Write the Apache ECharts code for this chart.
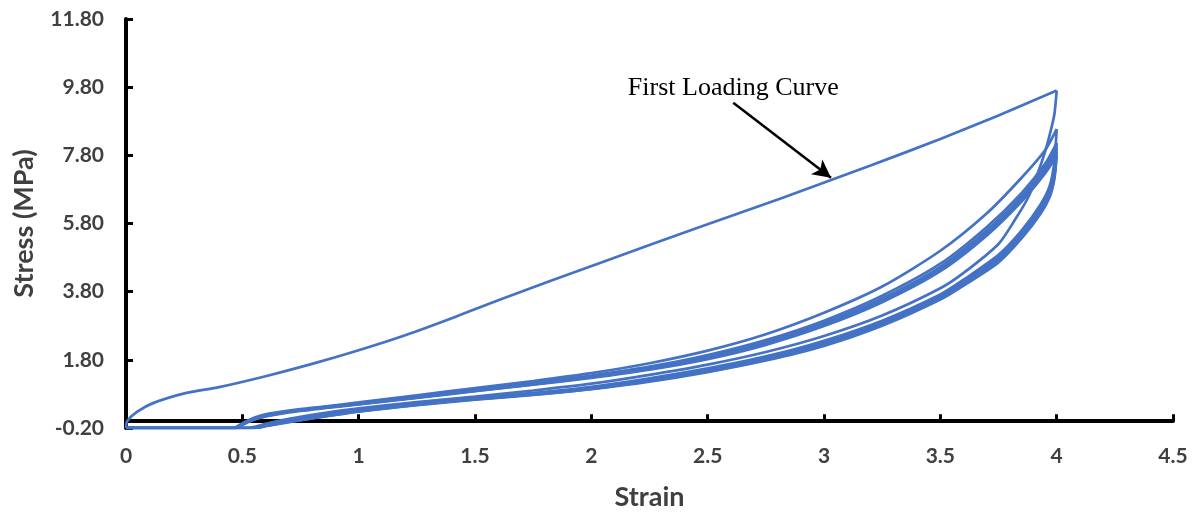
<!DOCTYPE html>
<html>
<head>
<meta charset="utf-8">
<script src="https://cdn.jsdelivr.net/npm/echarts@6/dist/echarts.min.js"></script>
<style>
  html, body { margin: 0; padding: 0; background: #fff; }
  #chart { width: 1195px; height: 512px; }
</style>
</head>
<body>
<div id="chart"></div>
<script>
// strain / stress pairs, one array per loading or unloading pass
const firstLoading = [[0, -0.2], [0.005, 0], [0.047, 0.27], [0.116, 0.53], [0.26, 0.83], [0.4, 1.0], [0.6, 1.32],
  [0.8, 1.68], [1.0, 2.08], [1.2, 2.52], [1.4, 3.02], [1.6, 3.55], [2.04, 4.65], [2.46, 5.68], [2.82, 6.55],
  [3.2, 7.5], [3.5, 8.28], [3.75, 8.97], [4.0, 9.7]]
const unloading1 = [[4.0, 9.7], [3.99, 9.0], [3.97, 8.4], [3.95, 7.9], [3.92, 7.3], [3.88, 6.6], [3.82, 5.9], [3.75, 5.2],
  [3.6, 4.35], [3.5, 3.9], [3.25, 3.1], [3.0, 2.5], [2.75, 2.03], [2.5, 1.66], [2.25, 1.36], [2.0, 1.1], [1.75, 0.9],
  [1.5, 0.72], [1.25, 0.56], [1.0, 0.38], [0.85, 0.24], [0.7, 0.07], [0.6, -0.08], [0.52, -0.2], [0, -0.2]]
const loading2 = [[0, -0.2], [0.46, -0.2], [0.5, -0.06], [0.55, 0.1], [0.6, 0.2], [0.7, 0.31], [0.85, 0.43], [1.0, 0.55],
  [1.25, 0.76], [1.5, 0.97], [1.75, 1.18], [2.0, 1.41], [2.25, 1.7], [2.5, 2.07], [2.75, 2.55], [3.0, 3.18],
  [3.25, 3.95], [3.5, 5.0], [3.7, 6.1], [3.85, 7.15], [3.95, 7.95], [4.0, 8.57]]
const unloading2 = [[4.0, 8.57], [3.99, 7.6], [3.97, 6.9], [3.93, 6.35], [3.85, 5.6], [3.75, 4.88], [3.6, 4.15],
  [3.5, 3.72], [3.25, 2.95], [3.0, 2.36], [2.75, 1.9], [2.5, 1.55], [2.25, 1.26], [2.0, 1.01], [1.75, 0.83],
  [1.5, 0.68], [1.25, 0.52], [1.0, 0.34], [0.85, 0.19], [0.7, 0.02], [0.6, -0.1], [0.54, -0.2], [0, -0.2]]
const loading3 = [[0, -0.2], [0.47, -0.2], [0.5, -0.08], [0.55, 0.07], [0.6, 0.17], [0.7, 0.29], [0.85, 0.41], [1.0, 0.52],
  [1.25, 0.72], [1.5, 0.92], [1.75, 1.12], [2.0, 1.34], [2.25, 1.6], [2.5, 1.94], [2.75, 2.38], [3.0, 2.95],
  [3.25, 3.68], [3.5, 4.62], [3.7, 5.7], [3.85, 6.7], [3.95, 7.55], [4.0, 8.16]]
const unloading3 = [[4.0, 8.16], [3.99, 7.35], [3.97, 6.78], [3.93, 6.25], [3.85, 5.52], [3.75, 4.8], [3.6, 4.1],
  [3.5, 3.67], [3.25, 2.9], [3.0, 2.3], [2.75, 1.85], [2.5, 1.5], [2.25, 1.22], [2.0, 0.98], [1.75, 0.8],
  [1.5, 0.66], [1.25, 0.5], [1.0, 0.31], [0.85, 0.16], [0.7, 0.0], [0.6, -0.12], [0.54, -0.2], [0, -0.2]]
const loading4 = [[0, -0.2], [0.47, -0.2], [0.5, -0.09], [0.55, 0.06], [0.6, 0.16], [0.7, 0.28], [0.85, 0.4], [1.0, 0.51],
  [1.25, 0.7], [1.5, 0.9], [1.75, 1.1], [2.0, 1.31], [2.25, 1.56], [2.5, 1.89], [2.75, 2.32], [3.0, 2.88],
  [3.25, 3.6], [3.5, 4.53], [3.7, 5.6], [3.85, 6.6], [3.95, 7.45], [4.0, 8.02]]
const unloading4 = [[4.0, 8.02], [3.99, 7.25], [3.97, 6.7], [3.93, 6.18], [3.85, 5.46], [3.75, 4.74], [3.6, 4.05],
  [3.5, 3.63], [3.25, 2.86], [3.0, 2.27], [2.75, 1.82], [2.5, 1.48], [2.25, 1.2], [2.0, 0.96], [1.75, 0.79],
  [1.5, 0.65], [1.25, 0.49], [1.0, 0.3], [0.85, 0.15], [0.7, -0.01], [0.6, -0.13], [0.55, -0.2], [0, -0.2]]
const loading5 = [[0, -0.2], [0.48, -0.2], [0.5, -0.1], [0.55, 0.05], [0.6, 0.15], [0.7, 0.27], [0.85, 0.39], [1.0, 0.5],
  [1.25, 0.69], [1.5, 0.89], [1.75, 1.08], [2.0, 1.29], [2.25, 1.53], [2.5, 1.85], [2.75, 2.28], [3.0, 2.83],
  [3.25, 3.54], [3.5, 4.46], [3.7, 5.52], [3.85, 6.52], [3.95, 7.36], [4.0, 7.9]]
const unloading5 = [[4.0, 7.9], [3.99, 7.17], [3.97, 6.63], [3.93, 6.12], [3.85, 5.41], [3.75, 4.7], [3.6, 4.01],
  [3.5, 3.6], [3.25, 2.83], [3.0, 2.24], [2.75, 1.8], [2.5, 1.46], [2.25, 1.18], [2.0, 0.95], [1.75, 0.78],
  [1.5, 0.64], [1.25, 0.48], [1.0, 0.29], [0.85, 0.14], [0.7, -0.02], [0.6, -0.14], [0.55, -0.2], [0, -0.2]]
const loading6 = [[0, -0.2], [0.48, -0.2], [0.5, -0.11], [0.55, 0.04], [0.6, 0.14], [0.7, 0.26], [0.85, 0.38], [1.0, 0.49],
  [1.25, 0.68], [1.5, 0.88], [1.75, 1.07], [2.0, 1.27], [2.25, 1.51], [2.5, 1.82], [2.75, 2.24], [3.0, 2.79],
  [3.25, 3.49], [3.5, 4.4], [3.7, 5.45], [3.85, 6.45], [3.95, 7.27], [4.0, 7.78]]
const unloading6 = [[4.0, 7.78], [3.99, 7.1], [3.97, 6.58], [3.93, 6.08], [3.85, 5.37], [3.75, 4.66], [3.6, 3.98],
  [3.5, 3.57], [3.25, 2.8], [3.0, 2.21], [2.75, 1.78], [2.5, 1.44], [2.25, 1.16], [2.0, 0.94], [1.75, 0.77],
  [1.5, 0.63], [1.25, 0.47], [1.0, 0.28], [0.85, 0.13], [0.7, -0.03], [0.6, -0.15], [0.56, -0.2], [0, -0.2]]

// annotation: text anchor and arrow ends, in data units
const noteText = 'First Loading Curve'
const notePos = [2.61, 9.78]
const arrowFrom = [2.61, 9.34]
const arrowTo = [3.03, 7.14]

const passes = [firstLoading, unloading1, loading2, unloading2, loading3, unloading3,
  loading4, unloading4, loading5, unloading5, loading6, unloading6]

const MyEcharts = echarts.init(document.getElementById('chart'))
const labelFont = 'Lato, "Open Sans", sans-serif'

let series = passes.map(pass => ({
  type: 'line',
  data: pass,
  showSymbol: false,
  smooth: 0.25,
  lineStyle: { color: '#4472C4', width: 2.7 }
}))

// arrow and label ride on the first pass
series[0].markLine = {
  silent: true,
  symbol: ['none', 'arrow'],
  symbolSize: [14, 18],
  label: { show: false },
  lineStyle: { color: '#000', width: 2.5, type: 'solid' },
  data: [[{ coord: arrowFrom }, { coord: arrowTo }]]
}
series[0].markPoint = {
  silent: true,
  symbol: 'circle',
  symbolSize: 0,
  data: [{ coord: notePos }],
  label: {
    show: true,
    position: 'inside',
    formatter: noteText,
    fontFamily: '"Liberation Serif", serif',
    fontSize: 26,
    color: '#000'
  }
}

const option = {
  animation: false,
  grid: { left: 126, right: 22, top: 19, bottom: 84, containLabel: false, outerBoundsMode: 'none' },
  xAxis: {
    type: 'value',
    min: 0,
    max: 4.5,
    interval: 0.5,
    name: 'Strain',
    nameLocation: 'middle',
    nameGap: 56,
    nameTextStyle: { fontFamily: labelFont, fontWeight: 'bold', fontSize: 27, color: '#404040' },
    axisLine: { lineStyle: { color: '#000', width: 4 } },
    axisTick: { inside: true, length: 7, lineStyle: { color: '#000', width: 3 } },
    axisLabel: { margin: 18, fontFamily: labelFont, fontWeight: 'bold', fontSize: 21, color: '#404040' },
    splitLine: { show: false }
  },
  yAxis: {
    type: 'value',
    min: -0.2,
    max: 11.8,
    interval: 2,
    name: 'Stress (MPa)',
    nameLocation: 'middle',
    nameGap: 88,
    nameTextStyle: { fontFamily: labelFont, fontWeight: 'bold', fontSize: 27, color: '#404040' },
    axisLine: { show: true, lineStyle: { color: '#000', width: 4 } },
    axisTick: { show: true, inside: true, length: 7, lineStyle: { color: '#000', width: 3 } },
    axisLabel: {
      margin: 22, fontFamily: labelFont, fontWeight: 'bold', fontSize: 21, color: '#404040',
      formatter: v => v.toFixed(2)
    },
    splitLine: { show: false }
  },
  series: series
}
MyEcharts.setOption(option)
</script>
</body>
</html>
